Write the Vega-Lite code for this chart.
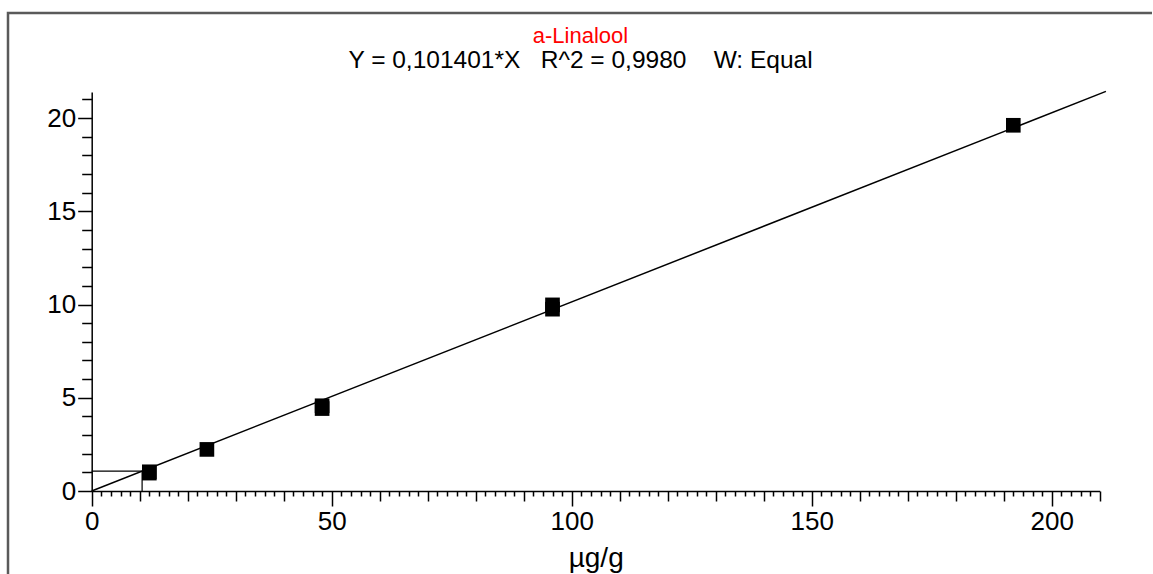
{
  "$schema": "https://vega.github.io/schema/vega-lite/v6.json",
  "autosize": {"type": "none"},
  "padding": {"left": 8, "top": 13, "right": 0, "bottom": 0},
  "width": 1145,
  "height": 561,
  "background": "white",
  "title": {
    "text": "a-Linalool",
    "subtitle": "Y = 0,101401*X\u00a0\u00a0\u00a0R^2 = 0,9980\u00a0\u00a0\u00a0\u00a0W: Equal",
    "anchor": "middle",
    "frame": "group",
    "offset": -60,
    "font": "Liberation Sans",
    "fontSize": 22,
    "fontWeight": "normal",
    "color": "#ff0000",
    "subtitleFont": "Liberation Sans",
    "subtitleFontSize": 24.5,
    "subtitleColor": "#000000",
    "subtitlePadding": 1
  },
  "datasets": {
    "fit": [
      {"conc": 0, "area": 0},
      {"conc": 211.3, "area": 21.426}
    ],
    "standards": [
      {"conc": 12, "area": 1.03},
      {"conc": 12, "area": 0.96},
      {"conc": 24, "area": 2.23},
      {"conc": 48, "area": 4.57},
      {"conc": 48, "area": 4.42},
      {"conc": 96, "area": 9.98},
      {"conc": 96, "area": 9.75},
      {"conc": 192, "area": 19.61}
    ],
    "sample": [
      {"conc": 0, "area": 1.065, "step": 0},
      {"conc": 10.5, "area": 1.065, "step": 1},
      {"conc": 10.5, "area": 0, "step": 2}
    ]
  },
  "layer": [
    {
      "data": {"name": "fit"},
      "mark": {"type": "line", "color": "#000000", "strokeWidth": 1.5, "clip": false},
      "encoding": {
        "x": {
          "field": "conc", "type": "quantitative",
          "scale": {"domain": [0, 210], "range": [83.7, 1091.7], "nice": false, "zero": false},
          "axis": {
            "orient": "bottom", "offset": -83, "title": "µg/g",
            "values": [0, 50, 100, 150, 200],
            "tickSize": 15, "domain": true, "labels": true, "format": "d"
          }
        },
        "y": {
          "field": "area", "type": "quantitative",
          "scale": {"domain": [0, 21.4], "range": [478, 78.9], "nice": false, "zero": false},
          "axis": {
            "orient": "left", "offset": -83.7, "title": null,
            "values": [0, 5, 10, 15, 20],
            "tickSize": 14, "domain": true, "labels": true, "format": "d"
          }
        }
      }
    },
    {
      "data": {"name": "standards"},
      "mark": {"type": "point", "shape": "square", "filled": true, "color": "#000000", "size": 215, "opacity": 1, "clip": false},
      "encoding": {
        "x": {
          "field": "conc", "type": "quantitative",
          "scale": {"domain": [0, 210], "range": [83.7, 1091.7], "nice": false, "zero": false},
          "axis": {
            "orient": "bottom", "offset": -83, "title": null,
            "values": [10, 20, 30, 40, 60, 70, 80, 90, 110, 120, 130, 140, 160, 170, 180, 190, 210],
            "tickSize": 10, "domain": false, "labels": false
          }
        },
        "y": {
          "field": "area", "type": "quantitative",
          "scale": {"domain": [0, 21.4], "range": [478, 78.9], "nice": false, "zero": false},
          "axis": {
            "orient": "left", "offset": -83.7, "title": null,
            "values": [1, 2, 3, 4, 6, 7, 8, 9, 11, 12, 13, 14, 16, 17, 18, 19, 21],
            "tickSize": 10, "domain": false, "labels": false
          }
        }
      }
    },
    {
      "data": {"name": "sample"},
      "mark": {"type": "line", "color": "#000000", "strokeWidth": 1.2, "clip": false},
      "encoding": {
        "order": {"field": "step", "type": "quantitative"},
        "x": {
          "field": "conc", "type": "quantitative",
          "scale": {"domain": [0, 210], "range": [83.7, 1091.7], "nice": false, "zero": false},
          "axis": {
            "orient": "bottom", "offset": -83, "title": null,
            "values": [2, 4, 6, 8, 12, 14, 16, 18, 22, 24, 26, 28, 32, 34, 36, 38, 42, 44, 46, 48, 52, 54, 56, 58, 62, 64, 66, 68, 72, 74, 76, 78, 82, 84, 86, 88, 92, 94, 96, 98, 102, 104, 106, 108, 112, 114, 116, 118, 122, 124, 126, 128, 132, 134, 136, 138, 142, 144, 146, 148, 152, 154, 156, 158, 162, 164, 166, 168, 172, 174, 176, 178, 182, 184, 186, 188, 192, 194, 196, 198, 202, 204, 206, 208],
            "tickSize": 5, "domain": false, "labels": false
          }
        },
        "y": {
          "field": "area", "type": "quantitative",
          "scale": {"domain": [0, 21.4], "range": [478, 78.9], "nice": false, "zero": false},
          "axis": null
        }
      }
    }
  ],
  "resolve": {"axis": {"x": "independent", "y": "independent"}},
  "config": {
    "view": {"stroke": "#5a5a5a", "strokeWidth": 2.5, "strokeDash": [1144, 1707, 561]},
    "axis": {
      "grid": false,
      "domainColor": "#000000",
      "domainWidth": 1.5,
      "tickColor": "#000000",
      "tickWidth": 1.5,
      "labelFont": "Liberation Sans",
      "labelFontSize": 26,
      "labelColor": "#000000",
      "labelPadding": 2,
      "labelFlush": false,
      "labelOverlap": false,
      "titleFont": "Liberation Sans",
      "titleFontSize": 28,
      "titleFontWeight": "normal",
      "titleColor": "#000000",
      "titlePadding": 10
    }
  }
}
